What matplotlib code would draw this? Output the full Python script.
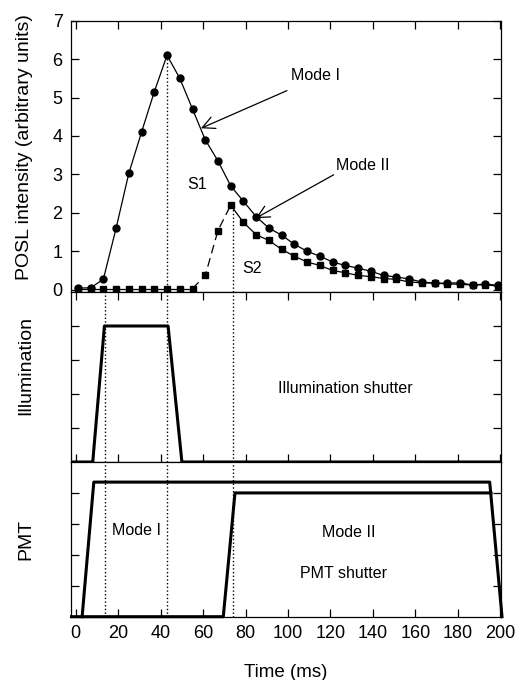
import matplotlib.pyplot as plt
import numpy as np

plt.rcParams['font.family'] = ['Liberation Sans', 'DejaVu Sans']

# sampled signal, one point every 6 ms
time_ms = [1, 7, 13, 19, 25, 31, 37, 43, 49, 55, 61, 67, 73, 79, 85, 91, 97,
           103, 109, 115, 121, 127, 133, 139, 145, 151, 157, 163, 169, 175,
           181, 187, 193, 199]
mode1 = [0.04, 0.05, 0.27, 1.6, 3.03, 4.1, 5.15, 6.1, 5.5, 4.7, 3.9, 3.35,
         2.7, 2.3, 1.9, 1.6, 1.42, 1.18, 1.0, 0.87, 0.72, 0.63, 0.56, 0.48,
         0.37, 0.33, 0.28, 0.2, 0.17, 0.17, 0.18, 0.12, 0.15, 0.11]
mode2 = [0.03, 0.03, 0.03, 0.03, 0.03, 0.03, 0.03, 0.03, 0.03, 0.03, 0.37,
         1.54, 2.2, 1.75, 1.43, 1.28, 1.05, 0.87, 0.72, 0.63, 0.5, 0.44,
         0.37, 0.34, 0.29, 0.27, 0.2, 0.18, 0.17, 0.15, 0.14, 0.12, 0.13, 0.09]

# shutter timing (trapezoids)
illum_t = [-2, 8, 13.5, 43.5, 50, 200.5]
illum_v = [0, 0, 4, 4, 0, 0]
pmt1_t = [3, 8.5, 195, 200.8]
pmt1_v = [0, 4.35, 4.35, 0]
pmt2_t = [-2, 69.5, 75, 195.6]
pmt2_v = [0, 0, 4, 4]

marks = [14, 43, 74]   # dotted guide lines
xticks = np.arange(0, 201, 20)
xlim = (-2.3, 200.5)

fig = plt.figure(figsize=(5.25, 6.8), dpi=100)
L, W = 0.135, 0.82
ax1 = fig.add_axes([L, 0.5706, W, 0.399])
ax2 = fig.add_axes([L, 0.3206, W, 0.25])
ax3 = fig.add_axes([L, 0.0931, W, 0.2275])

for ax in (ax1, ax2, ax3):
    ax.set_xlim(*xlim)
    ax.set_xticks(xticks)
    ax.tick_params(direction='in', length=6, width=0.9, labelsize=13,
                   right=True, top=True, pad=6)
    for s in ax.spines.values():
        s.set_linewidth(0.9)

# --- POSL signal
ax1.plot(time_ms, mode1, '-', color='black', lw=0.9, marker='o', ms=5)
i = time_ms.index(55); j = time_ms.index(73)
ax1.plot(time_ms[:i + 1], mode2[:i + 1], '-', color='black', lw=0.9)
ax1.plot(time_ms[i:j + 1], mode2[i:j + 1], color='black', lw=0.9, dashes=(7, 4))
ax1.plot(time_ms[j:], mode2[j:], '-', color='black', lw=0.9)
ax1.plot(time_ms, mode2, 's', color='black', ms=4.5)
ax1.set_ylim(-0.06, 7)
ax1.set_yticks(range(8))
ax1.tick_params(labelbottom=False, bottom=False)
ax1.set_ylabel('POSL intensity (arbitrary units)', fontsize=14)
ax1.yaxis.set_label_coords(-0.088, 0.535)
ax1.plot([43, 43], [-0.06, 6.1], ':', color='black', lw=1)
ax1.plot([74, 74], [-0.06, 2.2], ':', color='black', lw=1)
arrow = dict(arrowstyle='->', color='black', lw=0.9, mutation_scale=22,
             shrinkA=0, shrinkB=0)
ax1.annotate('', xy=(59, 4.2), xytext=(99.5, 5.18), arrowprops=arrow)
ax1.annotate('', xy=(84.8, 1.86), xytext=(121.5, 2.99), arrowprops=arrow)
ax1.text(113, 5.58, 'Mode I', fontsize=11.5, ha='center', va='center')
ax1.text(135, 3.23, 'Mode II', fontsize=11.5, ha='center', va='center')
ax1.text(57, 2.74, 'S1', fontsize=11.5, ha='center', va='center')
ax1.text(83, 0.54, 'S2', fontsize=11.5, ha='center', va='center')

# --- illumination shutter
ax2.plot(illum_t, illum_v, '-', color='black', lw=2.2)
ax2.set_ylim(0, 5)
ax2.set_yticks([1, 2, 3, 4])
ax2.tick_params(labelleft=False, labelbottom=False)
ax2.set_ylabel('Illumination', fontsize=14)
ax2.yaxis.set_label_coords(-0.086, 0.57)
for m in marks:
    ax2.axvline(m, color='black', ls=':', lw=1)
ax2.text(127, 2.17, 'Illumination shutter', fontsize=11.5, ha='center', va='center')

# --- PMT shutter
ax3.plot(pmt1_t, pmt1_v, '-', color='black', lw=2.2, clip_on=False)
ax3.plot(pmt2_t, pmt2_v, '-', color='black', lw=2.2, clip_on=False)
ax3.set_ylim(0, 5)
ax3.set_yticks([1, 2, 3, 4])
ax3.tick_params(labelleft=False, top=False)
ax3.set_ylabel('PMT', fontsize=14)
ax3.yaxis.set_label_coords(-0.084, 0.5)
for m in marks:
    ax3.axvline(m, color='black', ls=':', lw=1)
ax3.text(28.5, 2.8, 'Mode I', fontsize=11.5, ha='center', va='center')
ax3.text(128.6, 2.71, 'Mode II', fontsize=11.5, ha='center', va='center')
ax3.text(126.3, 1.4, 'PMT shutter', fontsize=11.5, ha='center', va='center')
ax3.set_xlabel('Time (ms)', fontsize=13.5, labelpad=16)

fig.savefig('out.png', dpi=100)
